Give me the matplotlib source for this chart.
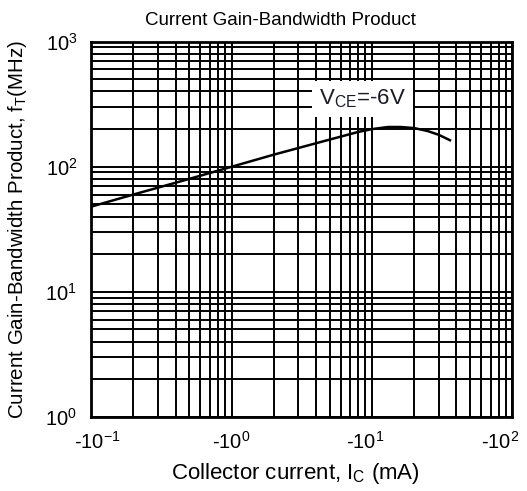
import matplotlib
matplotlib.use('Agg')
import matplotlib.pyplot as plt
import matplotlib.transforms as mtransforms
import numpy as np

plt.rcParams['font.family'] = ['Liberation Sans', 'DejaVu Sans']
plt.rcParams['mathtext.fontset'] = 'custom'
plt.rcParams['mathtext.rm'] = 'Liberation Sans'
plt.rcParams['mathtext.it'] = 'Liberation Sans:italic'
plt.rcParams['mathtext.default'] = 'regular'

# collector current (mA, magnitude) and fT (MHz)
ic = [0.1, 0.2, 0.5, 1, 2, 5, 8, 10, 13, 16, 20, 25, 30, 36]
ft = [48, 60, 80, 100, 125, 165, 190, 200, 208, 208, 204, 193, 180, 163]

xticks = [0.1, 1, 10, 100]
xticklabels = ['-10$^{-1}$', '-10$^{0}$', '-10$^{1}$', '-10$^{2}$']
yticks = [1, 10, 100, 1000]
yticklabels = ['10$^{0}$', '10$^{1}$', '10$^{2}$', '10$^{3}$']

fig = plt.figure(figsize=(5.27, 4.91), dpi=100)
ax = fig.add_axes([0.173, 0.151, 0.799, 0.764])

ax.plot(ic, ft, color='black', linewidth=1.8, zorder=3)

ax.set_xscale('log')
ax.set_yscale('log')
ax.set_xlim(0.1, 100)
ax.set_ylim(1, 1000)

ax.grid(True, which='both', color='black', linewidth=1.4)
ax.set_xticks(xticks)
ax.set_xticklabels(xticklabels, fontsize=14.5)
ax.set_yticks(yticks)
ax.set_yticklabels(yticklabels, fontsize=14.5)
ax.tick_params(which='both', length=0, pad=10)

# the x labels sit slightly squeezed toward the middle in the original
shifts = [6, 0, -7, -12]
for lab, dx in zip(ax.get_xticklabels(), shifts):
    lab.set_transform(lab.get_transform() +
                      mtransforms.ScaledTranslation(dx / 100, 0, fig.dpi_scale_trans))

for s in ax.spines.values():
    s.set_linewidth(2.0)

ax.text(8.6, 350, 'V$_{CE}$=-6V', fontsize=16, ha='center', va='center',
        color='#1a1a2a', zorder=4,
        bbox=dict(facecolor='white', edgecolor='none', pad=5))

ax.set_title('Current Gain-Bandwidth Product', fontsize=13.5, pad=12, x=0.449)
ax.set_xlabel('Collector current, I$_C$ (mA)', fontsize=16)
ax.set_ylabel('Current Gain-Bandwidth Product, f$_T$(MHz)', fontsize=14.8)
ax.xaxis.set_label_coords(0.486, -0.118)
ax.yaxis.set_label_coords(-0.148, 0.5)

fig.savefig('out.png', dpi=100)
